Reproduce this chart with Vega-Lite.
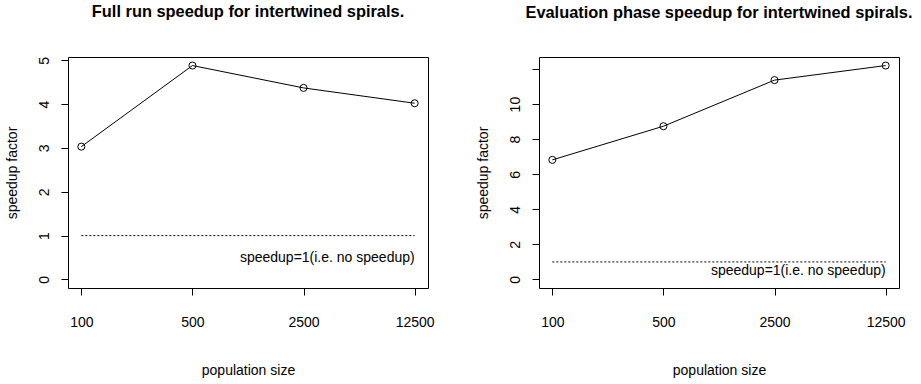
{
  "$schema": "https://vega.github.io/schema/vega-lite/v6.json",
  "background": "white",
  "padding": {"left": 4, "top": 3, "right": 5, "bottom": 5},
  "spacing": 40,
  "config": {
    "font": "Liberation Sans",
    "view": {"stroke": "black", "strokeWidth": 1},
    "axis": {
      "domain": false, "grid": false, "tickColor": "black", "tickSize": 7, "tickWidth": 1,
      "labelColor": "black", "labelFont": "Liberation Sans", "labelFontSize": 14, "labelOverlap": false,
      "titleColor": "black", "titleFont": "Liberation Sans", "titleFontSize": 14, "titleFontWeight": "normal"
    },
    "title": {"font": "Liberation Sans", "fontSize": 16.4, "fontWeight": "bold", "color": "black", "anchor": "middle", "frame": "group"}
  },
  "datasets": {
    "full": [
      {"pop": "100", "speedup": 3.03},
      {"pop": "500", "speedup": 4.88},
      {"pop": "2500", "speedup": 4.37},
      {"pop": "12500", "speedup": 4.02}
    ],
    "eval": [
      {"pop": "100", "speedup": 6.82},
      {"pop": "500", "speedup": 8.74},
      {"pop": "2500", "speedup": 11.37},
      {"pop": "12500", "speedup": 12.2}
    ],
    "ref": [
      {"from": "100", "to": "12500", "level": 1, "label": "speedup=1(i.e. no speedup)", "labely": 0.5}
    ]
  },
  "hconcat": [
    {
      "width": 360, "height": 231,
      "title": {"text": "Full run speedup for intertwined spirals.", "offset": 36},
      "layer": [
        {
          "data": {"name": "full"},
          "mark": {"type": "line", "color": "black", "strokeWidth": 1},
          "encoding": {
            "x": {"field": "pop", "type": "ordinal",
                  "scale": {"type": "point", "padding": 0.12, "domain": ["100", "500", "2500", "12500"]},
                  "axis": {"title": "population size", "labelAngle": 0, "labelPadding": 20, "titlePadding": 34}},
            "y": {"field": "speedup", "type": "quantitative",
                  "scale": {"domain": [-0.1952, 5.0752], "nice": false, "zero": false},
                  "axis": {"title": "speedup factor", "values": [0, 1, 2, 3, 4, 5], "tickCount": 10, "format": "d", "labelAngle": -90, "labelAlign": "center", "labelBaseline": "bottom", "labelPadding": 10, "titlePadding": 18}}
          }
        },
        {
          "data": {"name": "full"},
          "mark": {"type": "point", "shape": "circle", "filled": false, "color": "black", "size": 50, "strokeWidth": 1, "opacity": 1},
          "encoding": {
            "x": {"field": "pop", "type": "ordinal"},
            "y": {"field": "speedup", "type": "quantitative"}
          }
        },
        {
          "data": {"name": "ref"},
          "mark": {"type": "rule", "color": "black", "strokeWidth": 1, "strokeDash": [2, 2]},
          "encoding": {
            "x": {"field": "from", "type": "ordinal"},
            "x2": {"field": "to"},
            "y": {"field": "level", "type": "quantitative"}
          }
        },
        {
          "data": {"name": "ref"},
          "mark": {"type": "text", "align": "right", "baseline": "middle", "font": "Liberation Sans", "fontSize": 14, "color": "black"},
          "encoding": {
            "x": {"field": "to", "type": "ordinal"},
            "y": {"field": "labely", "type": "quantitative"},
            "text": {"field": "label"}
          }
        }
      ]
    },
    {
      "width": 360, "height": 231,
      "title": {"text": "Evaluation phase speedup for intertwined spirals.", "offset": 36},
      "layer": [
        {
          "data": {"name": "eval"},
          "mark": {"type": "line", "color": "black", "strokeWidth": 1},
          "encoding": {
            "x": {"field": "pop", "type": "ordinal",
                  "scale": {"type": "point", "padding": 0.12, "domain": ["100", "500", "2500", "12500"]},
                  "axis": {"title": "population size", "labelAngle": 0, "labelPadding": 20, "titlePadding": 34}},
            "y": {"field": "speedup", "type": "quantitative",
                  "scale": {"domain": [-0.488, 12.688], "nice": false, "zero": false},
                  "axis": {"title": "speedup factor", "values": [0, 2, 4, 6, 8, 10, 12], "tickCount": 10, "format": "d", "labelExpr": "datum.value == 12 ? '' : datum.label", "labelAngle": -90, "labelAlign": "center", "labelBaseline": "bottom", "labelPadding": 10, "titlePadding": 18}}
          }
        },
        {
          "data": {"name": "eval"},
          "mark": {"type": "point", "shape": "circle", "filled": false, "color": "black", "size": 50, "strokeWidth": 1, "opacity": 1},
          "encoding": {
            "x": {"field": "pop", "type": "ordinal"},
            "y": {"field": "speedup", "type": "quantitative"}
          }
        },
        {
          "data": {"name": "ref"},
          "mark": {"type": "rule", "color": "black", "strokeWidth": 1, "strokeDash": [2, 2]},
          "encoding": {
            "x": {"field": "from", "type": "ordinal"},
            "x2": {"field": "to"},
            "y": {"field": "level", "type": "quantitative"}
          }
        },
        {
          "data": {"name": "ref"},
          "mark": {"type": "text", "align": "right", "baseline": "middle", "font": "Liberation Sans", "fontSize": 14, "color": "black"},
          "encoding": {
            "x": {"field": "to", "type": "ordinal"},
            "y": {"field": "labely", "type": "quantitative"},
            "text": {"field": "label"}
          }
        }
      ]
    }
  ]
}
